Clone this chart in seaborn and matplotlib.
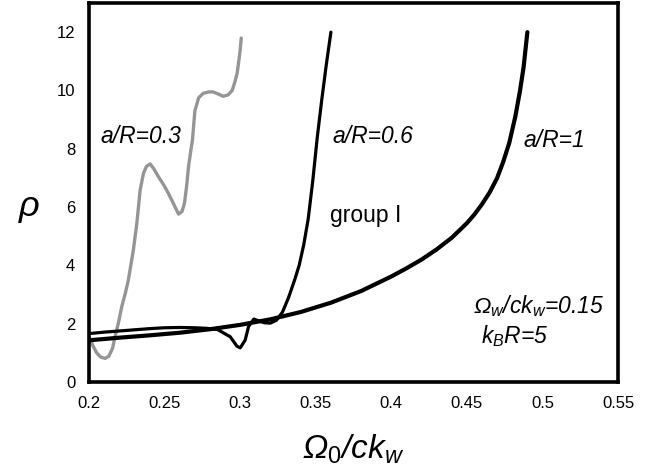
import matplotlib
matplotlib.use("Agg")
import matplotlib.pyplot as plt
import seaborn as sns

# rho versus Omega_0 / c k_w for three values of a/R
x_03 = [0.200, 0.2025, 0.205, 0.2075, 0.2106, 0.213, 0.2155, 0.2172, 0.2195, 0.2216,
        0.224, 0.226, 0.2293, 0.2316, 0.2338, 0.236, 0.238, 0.2404, 0.243, 0.2459,
        0.2495, 0.2525, 0.256, 0.2592, 0.2615, 0.2631, 0.2645, 0.2658, 0.2672, 0.2684,
        0.270, 0.2725, 0.2755, 0.279, 0.282, 0.2855, 0.2887, 0.292, 0.2947, 0.2965,
        0.298, 0.2993, 0.300, 0.3007]
y_03 = [1.55, 1.25, 1.0, 0.86, 0.81, 0.88, 1.15, 1.55, 2.05, 2.58,
        3.05, 3.5, 4.53, 5.44, 6.59, 7.16, 7.4, 7.48, 7.3, 7.04,
        6.75, 6.47, 6.1, 5.76, 5.85, 6.13, 6.7, 7.39, 7.9, 8.3,
        9.3, 9.75, 9.9, 9.95, 9.95, 9.88, 9.8, 9.85, 10.0, 10.3,
        10.6, 11.1, 11.4, 11.8]

x_06 = [0.200, 0.210, 0.220, 0.230, 0.240, 0.250, 0.260, 0.270, 0.278, 0.285,
        0.2934, 0.2978, 0.300, 0.3033, 0.3055, 0.309, 0.312, 0.316, 0.320, 0.324,
        0.328, 0.332, 0.336, 0.339, 0.342, 0.345, 0.348, 0.351, 0.354, 0.357, 0.360]
y_06 = [1.66, 1.71, 1.75, 1.79, 1.83, 1.86, 1.87, 1.86, 1.84, 1.80,
        1.55, 1.23, 1.17, 1.44, 1.90, 2.16, 2.10, 2.03, 2.02, 2.12,
        2.40, 2.90, 3.50, 4.00, 4.70, 5.60, 6.90, 8.40, 9.70, 10.90, 12.00]

x_1 = [0.200, 0.220, 0.240, 0.260, 0.280, 0.300, 0.320, 0.340, 0.360, 0.380,
       0.400, 0.410, 0.420, 0.430, 0.440, 0.450, 0.455, 0.460, 0.465, 0.470,
       0.474, 0.478, 0.482, 0.485, 0.4875, 0.490]
y_1 = [1.43, 1.52, 1.60, 1.69, 1.81, 1.96, 2.15, 2.40, 2.72, 3.12,
       3.62, 3.90, 4.20, 4.55, 4.95, 5.45, 5.75, 6.10, 6.50, 7.00,
       7.55, 8.20, 9.10, 9.95, 10.80, 12.00]

x_ticks = [0.2, 0.25, 0.3, 0.35, 0.4, 0.45, 0.5, 0.55]
x_tick_labels = ["0.2", "0.25", "0.3", "0.35", "0.4", "0.45", "0.5", "0.55"]
y_ticks = [0, 2, 4, 6, 8, 10, 12]

sns.set_style("white")
plt.rcParams["font.family"] = ["Liberation Sans", "DejaVu Sans"]
plt.rcParams["mathtext.fontset"] = "custom"
plt.rcParams["mathtext.rm"] = "Liberation Sans"
plt.rcParams["mathtext.it"] = "Liberation Sans:italic"
for key in ("text.color", "axes.labelcolor", "xtick.color", "ytick.color"):
    plt.rcParams[key] = "black"

fig = plt.figure(figsize=(6.55, 4.72), dpi=100)
ax = fig.add_axes([0.136, 0.1907, 0.8076, 0.8029])

sns.lineplot(x=x_03, y=y_03, sort=False, estimator=None, ax=ax,
             color="#959595", linewidth=2.4)
sns.lineplot(x=x_06, y=y_06, sort=False, estimator=None, ax=ax,
             color="black", linewidth=2.3)
sns.lineplot(x=x_1, y=y_1, sort=False, estimator=None, ax=ax,
             color="black", linewidth=3.0)

ax.set_xlim(0.2, 0.55)
ax.set_ylim(0, 13)
ax.set_xticks(x_ticks)
ax.set_xticklabels(x_tick_labels)
ax.set_yticks(y_ticks)
ax.tick_params(direction="in", length=5, width=1, labelsize=12, pad=10,
               top=False, right=False, colors="black")

for s in ax.spines.values():
    s.set_linewidth(2.6)
    s.set_color("black")

ax.set_xlabel("Ω$_\\mathit{0}$/ck$_w$", fontsize=24, style="italic",
              va="baseline", ha="center")
ax.xaxis.set_label_coords(0.5, -0.203)
ax.set_ylabel("ρ", fontsize=26, style="italic", rotation=0,
              va="center", ha="center")
ax.yaxis.set_label_coords(-0.113, 0.464)

txt = dict(fontsize=16.5, style="italic", ha="left", va="baseline", color="black")
ax.text(0.2073, 8.2, "a/R=0.3", **txt)
ax.text(0.361, 8.2, "a/R=0.6", **txt)
ax.text(0.4876, 8.06, "a/R=1", **txt)
ax.text(0.3596, 5.5, "group I", fontsize=16.5, ha="left", va="baseline", color="black")
ax.text(0.4543, 2.37, "Ω$_w$/ck$_w$=0.15", **txt)
ax.text(0.4596, 1.34, "k$_B$R=5", **txt)

fig.savefig("out.png", dpi=100)
